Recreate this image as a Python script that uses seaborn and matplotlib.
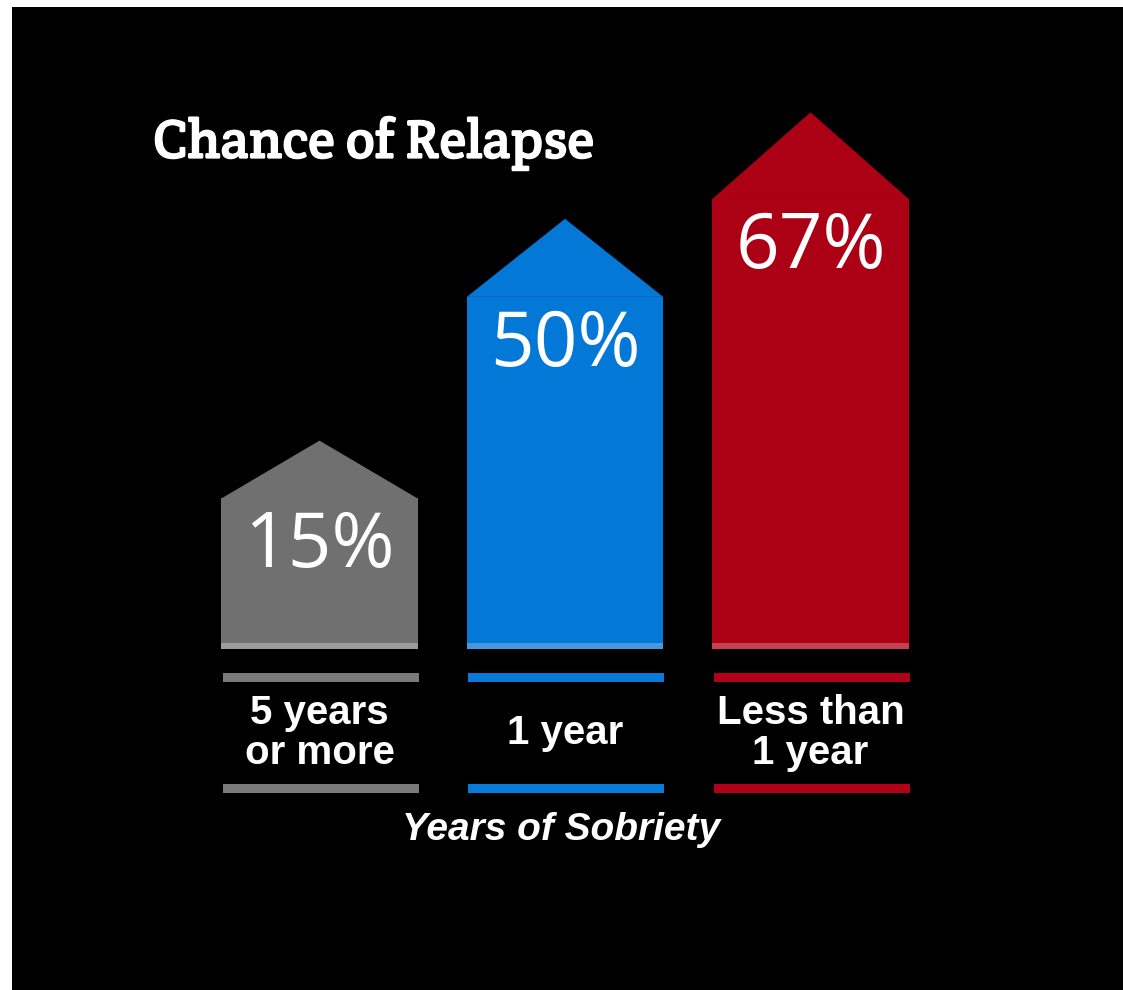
import matplotlib
matplotlib.use("Agg")
import matplotlib.pyplot as plt
import matplotlib.patheffects as pe
import seaborn as sns
import pandas as pd
from matplotlib.patches import Polygon, Rectangle

# ---- data ----
categories = ["5 years\nor more", "1 year", "Less than\n1 year"]
relapse_pct = [15, 50, 67]
value_labels = ["15%", "50%", "67%"]
title_text = "Chance of Relapse"
xlabel_text = "Years of Sobriety"

# ---- styles ----
BODY = ["#707070", "#0378d7", "#ac0014"]
LIGHT = ["#9c9c9c", "#4599e0", "#c4424f"]
LINE = ["#7a7a7a", "#0a7ad8", "#b10018"]
ROOF = [10, 13.5, 15]
BASE = -11.2
W, H = 1123, 990

sns.set_theme(style="dark")
fig = plt.figure(figsize=(W / 100, H / 100), dpi=100, facecolor="black")
# white margins at top and left of the reference image
fig.patches.append(Rectangle((0, 0), 12 / W, 1, transform=fig.transFigure,
                             facecolor="white", edgecolor="none", zorder=-1))
fig.patches.append(Rectangle((0, 1 - 7 / H), 1, 7 / H, transform=fig.transFigure,
                             facecolor="white", edgecolor="none", zorder=-1))

ax = fig.add_axes([12 / W, 0, 1 - 12 / W, 1 - 7 / H])
ax.set_facecolor("black")

df = pd.DataFrame({"cat": categories, "pct": relapse_pct})
sns.barplot(data=df, x="cat", y="pct", hue="cat", palette=BODY, width=0.8,
            legend=False, ax=ax, saturation=1, edgecolor="none", linewidth=0)

bars = sorted(ax.patches, key=lambda p: p.get_x())
for i, p in enumerate(bars):
    top = p.get_height()
    x0, w = p.get_x(), p.get_width()
    p.set_y(BASE)
    p.set_height(top - BASE)
    ax.add_patch(Polygon([(x0, top - 0.05), (x0 + w / 2, top + ROOF[i]), (x0 + w, top - 0.05)],
                         closed=True, facecolor=BODY[i], edgecolor="none"))
    ax.add_patch(Rectangle((x0, BASE), w, 1.0, facecolor=LIGHT[i], edgecolor="none"))
    for yc in (-16.1, -35.4):
        ax.add_patch(Rectangle((x0 + 0.005, yc - 0.78), w, 1.56, facecolor=LINE[i], edgecolor="none"))
    ax.text(x0 + w / 2, top - 8.5, value_labels[i], ha="center", va="center",
            color="white", fontsize=55, family="Open Sans")
    ax.text(x0 + w / 2, -25.8, categories[i], ha="center", va="center",
            color="white", fontsize=29, fontweight="bold", linespacing=1.05,
            family=["Liberation Sans", "DejaVu Sans"])

ax.text(0.984, -42.6, xlabel_text, ha="center", va="center", color="white",
        fontsize=28, fontstyle="italic", fontweight="bold",
        family=["Liberation Sans", "DejaVu Sans"])

ax.set_xlim(-1.2525, 3.2729)
ax.set_ylim(-70.38, 100.28)
ax.set_xticks([])
ax.set_yticks([])
ax.set_xlabel("")
ax.set_ylabel("")
for s in ax.spines.values():
    s.set_visible(False)

fig.text(153 / W, 1 - 158 / H, title_text, ha="left", va="baseline",
         color="white", fontsize=39.5, family=["Crete Round", "DejaVu Serif"],
         path_effects=[pe.withStroke(linewidth=0.9, foreground="white")])

fig.savefig("out.png", dpi=100, facecolor="black")
